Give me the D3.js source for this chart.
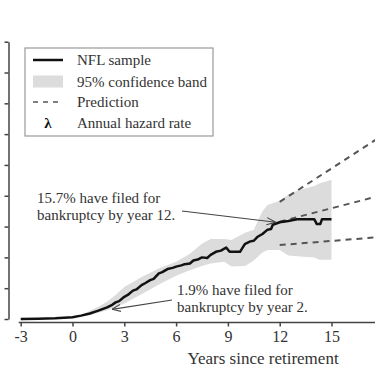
<!DOCTYPE html>
<html>
<head>
<meta charset="utf-8">
<script src="https://cdn.jsdelivr.net/npm/d3@7"></script>
<style>
  body { margin: 0; background: #fff; }
  svg { display: block; }
  svg text { font-family: "Liberation Serif", "Times New Roman", "DejaVu Serif", serif; }
</style>
</head>
<body>
<div id="chart"></div>
<script>
// cumulative share of NFL players filing for bankruptcy (percent) by years since retirement
const sampleYears = [-3, -2, -1, 0, 0.5, 1, 1.5, 2, 2.3, 2.5, 2.7, 3, 3.2, 3.5, 3.7, 4, 4.2, 4.5, 4.7, 5, 5.2, 5.5, 5.8, 6, 6.3, 6.5, 6.8, 7, 7.3, 7.5, 7.8, 8, 8.3, 8.6, 8.9, 9.1, 9.7, 9.9, 10, 10.3, 10.5, 10.7, 11, 11.3, 11.5, 11.6, 12, 12.5, 13, 14, 14.15, 14.35, 14.45, 15];
const samplePct   = [0, 0.05, 0.12, 0.3, 0.55, 0.9, 1.35, 1.9, 2.3, 2.7, 2.9, 3.6, 3.9, 4.6, 4.8, 5.5, 5.8, 6.3, 6.5, 7.4, 7.6, 8.1, 8.3, 8.5, 8.7, 8.9, 9.0, 9.5, 9.7, 10.0, 9.9, 10.4, 10.9, 11.1, 11.6, 10.9, 10.9, 11.8, 12.2, 12.6, 12.7, 13.3, 13.8, 14.5, 14.6, 15.3, 15.7, 15.9, 16.2, 16.2, 15.4, 15.4, 16.2, 16.2];

// 95% confidence band
const bandYears = [0.5, 1, 1.5, 2, 2.5, 3, 4, 5, 6, 6.8, 7.5, 8, 8.8, 9.2, 10, 10.5, 11, 11.3, 12, 12.5, 13, 14, 14.3, 15];
const bandLow   = [0.45, 0.6, 1.0, 1.4, 1.9, 2.5, 4.0, 5.6, 7.0, 7.9, 8.6, 9.0, 9.3, 8.5, 8.6, 9.5, 10.8, 11.2, 11.2, 10.3, 10.2, 10.0, 9.6, 9.6];
const bandHigh  = [0.7, 1.3, 2.0, 2.8, 3.9, 5.2, 6.8, 8.2, 9.3, 10.6, 12.2, 13.0, 13.0, 12.8, 14.0, 14.5, 17.5, 18.5, 19.2, 20.2, 20.8, 21.6, 22.0, 22.6];

// prediction lines: [start year, start pct, end year, end pct]
const predictions = [
  [12, 19.0, 20, 33.5],
  [12, 15.8, 20, 21.6],
  [12, 12.0, 20, 13.8]
];

const xTicks = [-3, 0, 3, 6, 9, 12, 15];
const yTicks = [0, 5, 10, 15, 20, 25, 30, 35, 40, 45];

const legendLabels = ["NFL sample", "95% confidence band", "Prediction", "Annual hazard rate"];

const annotations = [
  { lines: ["15.7% have filed for", "bankruptcy by year 12."], year: 12, pct: 15.7 },
  { lines: ["1.9% have filed for", "bankruptcy by year 2."], year: 2, pct: 1.9 }
];

const width = 375, height = 375;
const ink = "#333";
const serif = "Liberation Serif, Times New Roman, serif";

const svg = d3.select("#chart").append("svg")
  .attr("width", width)
  .attr("height", height);

const x = d3.scaleLinear().domain([-3, 15]).range([20.7, 331.5]);
const y = d3.scaleLinear().domain([0, 45]).range([319, 41.7]);

// confidence band
const band = bandYears.map((d, i) => [d, bandLow[i], bandHigh[i]]);
svg.append("path")
  .datum(band)
  .attr("fill", "#dcdcdc")
  .attr("d", d3.area()
    .x(d => x(d[0]))
    .y0(d => y(d[1]))
    .y1(d => y(d[2])));

// prediction lines
svg.append("g")
  .selectAll("line")
  .data(predictions)
  .join("line")
  .attr("x1", d => x(d[0]))
  .attr("y1", d => y(d[1]))
  .attr("x2", d => x(d[2]))
  .attr("y2", d => y(d[3]))
  .attr("stroke", "#555")
  .attr("stroke-width", 2)
  .attr("stroke-dasharray", "6,5");

// sample line
const sample = sampleYears.map((d, i) => [d, samplePct[i]]);
svg.append("path")
  .datum(sample)
  .attr("fill", "none")
  .attr("stroke", "#111")
  .attr("stroke-width", 2.5)
  .attr("stroke-linejoin", "round")
  .attr("d", d3.line().x(d => x(d[0])).y(d => y(d[1])));

// axes (offset, R style)
const xAxis = svg.append("g")
  .attr("transform", "translate(0, 322.5)")
  .call(d3.axisBottom(x).tickValues(xTicks).tickSize(4).tickSizeOuter(0).tickFormat(d => String(d)));
xAxis.attr("font-family", serif);
xAxis.select(".domain").attr("d", `M${x(-3) - 2},0H${width + 20}`);
xAxis.selectAll("line, .domain").attr("stroke", "#444").attr("stroke-width", 1.5);
xAxis.selectAll("text")
  .attr("fill", ink)
  .attr("font-size", 16)
  .attr("y", 8);

svg.append("text")
  .attr("x", 263)
  .attr("y", 364)
  .attr("text-anchor", "middle")
  .attr("font-size", 17)
  .attr("fill", ink)
  .text("Years since retirement");

const yAxis = svg.append("g")
  .attr("transform", "translate(8.5, 0)")
  .call(d3.axisLeft(y).tickValues(yTicks).tickSize(4).tickSizeOuter(0).tickFormat(""));
yAxis.selectAll("line, .domain").attr("stroke", "#444").attr("stroke-width", 1.5);

// annotations
const arrowTips = [[-4, 0], [5, 2]];
const textPos = [[37, 203], [177, 295]];
const arrowTails = [[182, 211], [172, 300]];

svg.append("defs").append("marker")
  .attr("id", "arrow")
  .attr("viewBox", "0 -5 10 10")
  .attr("refX", 10)
  .attr("refY", 0)
  .attr("markerWidth", 9)
  .attr("markerHeight", 9)
  .attr("markerUnits", "userSpaceOnUse")
  .attr("orient", "auto")
  .append("path")
  .attr("d", "M0,-4L10,0L0,4")
  .attr("fill", "none")
  .attr("stroke", "#444")
  .attr("stroke-width", 1.2);

annotations.forEach((a, i) => {
  const t = svg.append("text")
    .attr("font-size", 15)
    .attr("fill", ink);
  a.lines.forEach((l, j) => {
    t.append("tspan")
      .attr("x", textPos[i][0])
      .attr("y", textPos[i][1] + j * 17)
      .text(l);
  });
  svg.append("line")
    .attr("x1", arrowTails[i][0])
    .attr("y1", arrowTails[i][1])
    .attr("x2", x(a.year) + arrowTips[i][0])
    .attr("y2", y(a.pct) + arrowTips[i][1])
    .attr("stroke", "#444")
    .attr("stroke-width", 1.2)
    .attr("marker-end", "url(#arrow)");
});

// legend
const legend = svg.append("g").attr("transform", "translate(25, 48)");
legend.append("rect")
  .attr("width", 188)
  .attr("height", 88)
  .attr("fill", "#fff")
  .attr("stroke", "#999")
  .attr("stroke-width", 1.2);

const rowY = [12, 33.5, 54, 75];
legend.append("line")
  .attr("x1", 8).attr("x2", 38)
  .attr("y1", rowY[0]).attr("y2", rowY[0])
  .attr("stroke", "#111").attr("stroke-width", 2.5);
legend.append("rect")
  .attr("x", 8).attr("y", rowY[1] - 6)
  .attr("width", 30).attr("height", 12)
  .attr("fill", "#dcdcdc");
legend.append("line")
  .attr("x1", 8).attr("x2", 38)
  .attr("y1", rowY[2]).attr("y2", rowY[2])
  .attr("stroke", "#555").attr("stroke-width", 1.5)
  .attr("stroke-dasharray", "5,5");
legend.append("text")
  .attr("x", 23).attr("y", rowY[3] + 5)
  .attr("text-anchor", "middle")
  .attr("font-size", 15)
  .attr("font-weight", "bold")
  .attr("fill", "#111")
  .text("λ");

legend.selectAll("text.label")
  .data(legendLabels)
  .join("text")
  .attr("class", "label")
  .attr("x", 52)
  .attr("y", (d, i) => rowY[i] + 5)
  .attr("font-size", 15)
  .attr("fill", ink)
  .text(d => d);
</script>
</body>
</html>
